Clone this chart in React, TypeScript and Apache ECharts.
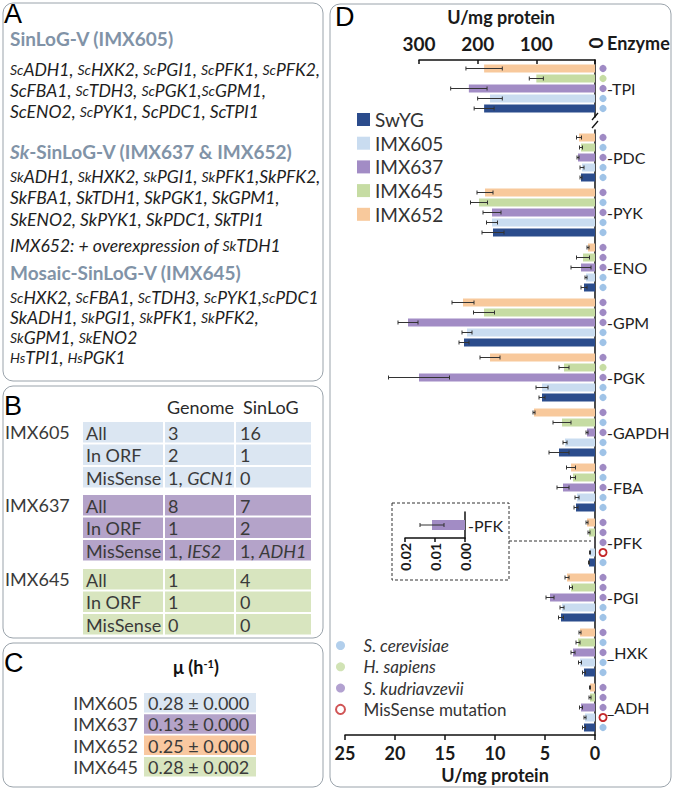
import React, { useEffect, useRef } from 'react';
import * as echarts from 'echarts';

const FONT = 'Lato, "Open Sans", "DejaVu Sans", sans-serif';
const LABEL_FONT = '"Liberation Sans", Arial, sans-serif';

// ---------------- Panel D data ----------------
const categories = ['TPI', 'PDC', 'PYK', 'ENO', 'GPM', 'PGK', 'GAPDH', 'FBA', 'PFK', 'PGI', 'HXK', 'ADH'];
// index 0 (TPI) is read on the top axis (0-300), the rest on the bottom axis (0-25)
const swygValues = [189, 1.4, 10.2, 1.1, 13.1, 5.3, 3.6, 1.9, 0.6, 3.4, 1.1, 1.1];
const swygErrors = [17, 0.1, 1.1, 0.3, 0.5, 0.3, 1.0, 0.2, 0.05, 0.25, 0.15, 0.15];
const imx605Values = [179, 1.3, 10.3, 0.9, 12.8, 5.3, 3.0, 1.8, 0.5, 3.3, 1.5, 1.0];
const imx605Errors = [21, 0.2, 0.55, 0.1, 0.5, 0.6, 0.2, 0.2, 0.05, 0.2, 0.15, 0.1];
const imx637Values = [215, 1.7, 10.3, 1.4, 18.7, 17.6, 0.8, 3.2, 0.011, 4.5, 2.2, 1.4];
const imx637Errors = [31, 0.1, 0.9, 1.0, 1.0, 3.05, 0.1, 0.6, 0.004, 0.4, 0.2, 0.15];
const imx645Values = [100, 1.4, 11.6, 1.2, 11.1, 3.1, 3.3, 2.2, 0.6, 2.4, 1.7, 0.5];
const imx645Errors = [12, 0.15, 0.85, 0.65, 1.05, 0.5, 0.9, 0.25, 0.1, 0.15, 0.2, 0.1];
const imx652Values = [189, 1.6, 11.0, 0.7, 13.2, 10.5, 6.1, 2.4, 0.8, 2.8, 1.5, 0.5];
const imx652Errors = [31, 0.25, 0.8, 0.1, 1.1, 1.0, 0.1, 0.45, 0.1, 0.2, 0.1, 0.05];

// origin of each enzyme: sc = S. cerevisiae, hs = H. sapiens, sk = S. kudriavzevii, mut = MisSense mutation
const swygOrigin = ['sc', 'sc', 'sc', 'sc', 'sc', 'sc', 'sc', 'sc', 'sc', 'sc', 'sc', 'sc'];
const imx605Origin = ['sc', 'sc', 'sc', 'sc', 'sc', 'sc', 'sc', 'sc', 'mut', 'sc', 'sc', 'mut'];
const imx637Origin = ['sk', 'sk', 'sk', 'sk', 'sk', 'sk', 'sk', 'sk', 'sk', 'sk', 'sk', 'sk'];
const imx645Origin = ['hs', 'sc', 'sc', 'sk', 'sk', 'hs', 'sc', 'sc', 'sk', 'sk', 'sc', 'sk'];
const imx652Origin = ['sk', 'sk', 'sk', 'sk', 'sk', 'sk', 'sk', 'sk', 'sk', 'sk', 'sk', 'sk'];

const topTicks = [0, 100, 200, 300];
const bottomTicks = [0, 5, 10, 15, 20, 25];
const insetTicks = [0, 0.01, 0.02];
const legendOrder = ['SwYG', 'IMX605', 'IMX637', 'IMX645', 'IMX652'];
const speciesNames = ['S. cerevisiae', 'H. sapiens', 'S. kudriavzevii', 'MisSense mutation'];
const speciesCodes = ['sc', 'hs', 'sk', 'mut'];

// ---------------- Panels A, B, C text ----------------
const panelATitles = ['SinLoG-V (IMX605)', '{bi|Sk}-SinLoG-V (IMX637 & IMX652)', 'Mosaic-SinLoG-V (IMX645)'];
// '*' marks a prefix that is printed small
const panelAGenes1 = ['*ScADH1, *ScHXK2, *ScPGI1, *ScPFK1, *ScPFK2,', 'ScFBA1, *ScTDH3, *ScPGK1,*ScGPM1,', 'ScENO2, *ScPYK1, ScPDC1, ScTPI1'];
const panelAGenes2 = ['*SkADH1, *SkHXK2, *SkPGI1, *SkPFK1,SkPFK2,', 'SkFBA1, SkTDH1, SkPGK1, SkGPM1,', 'SkENO2, SkPYK1, SkPDC1, SkTPI1', 'IMX652: + overexpression of *SkTDH1'];
const panelAGenes3 = ['*ScHXK2, *ScFBA1, *ScTDH3, *ScPYK1,*ScPDC1', 'SkADH1, *SkPGI1, *SkPFK1, *SkPFK2,', '*SkGPM1, *SkENO2', '*HsTPI1, *HsPGK1'];

const tableStrains = ['IMX605', 'IMX637', 'IMX645'];
const tableRowNames = ['All', 'In ORF', 'MisSense'];
const tableHeaders = ['Genome', 'SinLoG'];
const genomeCounts = [['3', '2', '1, {i|GCN1}'], ['8', '1', '1, {i|IES2}'], ['1', '1', '0']];
const sinlogCounts = [['16', '1', '0'], ['7', '2', '1, {i|ADH1}'], ['4', '0', '0']];

const growthStrains = ['IMX605', 'IMX637', 'IMX652', 'IMX645'];
const growthRates = ['0.28 ± 0.000', '0.13 ± 0.000', '0.25 ± 0.000', '0.28 ± 0.002'];

// ---------------- colours ----------------
const barColors: Record<string, string> = {
  SwYG: '#2b4c8c',
  IMX605: '#c9dcf0',
  IMX637: '#a28cc5',
  IMX645: '#c6dca3',
  IMX652: '#f8c99c',
};
const cellColors: Record<string, string> = {
  IMX605: '#dbe6f2',
  IMX637: '#b4a3c9',
  IMX645: '#d8e5bf',
  IMX652: '#f9c8a0',
};
const dotColors: Record<string, string> = { sc: '#9fc3e7', hs: '#c6dca3', sk: '#9f8ac4', mut: '#c4292b' };

const SLOT = 10; // bar width 8 + gap 2
const TXT = '#2a2a2a';

type Strain = { name: string; values: number[]; errors: number[]; origin: string[] };
const strainsTopDown: Strain[] = [
  { name: 'IMX652', values: imx652Values, errors: imx652Errors, origin: imx652Origin },
  { name: 'IMX645', values: imx645Values, errors: imx645Errors, origin: imx645Origin },
  { name: 'IMX637', values: imx637Values, errors: imx637Errors, origin: imx637Origin },
  { name: 'IMX605', values: imx605Values, errors: imx605Errors, origin: imx605Origin },
  { name: 'SwYG', values: swygValues, errors: swygErrors, origin: swygOrigin },
];

function renderErr(params: any, api: any) {
  const v = api.value(0);
  const c = api.value(1);
  const e = api.value(2);
  const slot = api.value(3);
  const center = api.coord([v, c]);
  const y = center[1] + (slot - 2) * SLOT;
  const xa = api.coord([v - e, c])[0];
  const xb = api.coord([v + e, c])[0];
  const st = { stroke: '#333', lineWidth: 1 };
  return {
    type: 'group',
    children: [
      { type: 'line', shape: { x1: xa, y1: y, x2: xb, y2: y }, style: st },
      { type: 'line', shape: { x1: xa, y1: y - 2, x2: xa, y2: y + 2 }, style: st },
      { type: 'line', shape: { x1: xb, y1: y - 2, x2: xb, y2: y + 2 }, style: st },
    ],
  };
}

function renderDot(params: any, api: any) {
  const c = api.value(1);
  const slot = api.value(2);
  const code = speciesCodes[api.value(3)];
  const p = api.coord([0, c]);
  const cx = p[0] + 8;
  const cy = p[1] + (slot - 2) * SLOT;
  if (code === 'mut') {
    return { type: 'circle', shape: { cx, cy, r: 3.6 }, style: { fill: '#fff', stroke: dotColors.mut, lineWidth: 1.8 } };
  }
  return { type: 'circle', shape: { cx, cy, r: 3.6 }, style: { fill: dotColors[code] } };
}

function geneRich(line: string) {
  return line.replace(/\*(Sc|Sk|Hs)/g, '{ps|$1}');
}

function buildGraphics() {
  const els: any[] = [];
  const box = (x: number, y: number, w: number, h: number) => ({
    type: 'rect',
    shape: { x, y, width: w, height: h, r: 10 },
    style: { fill: 'none', stroke: '#9aa3ab', lineWidth: 1 },
  });
  const text = (x: number, y: number, t: string, st: any = {}) => ({
    type: 'text',
    x,
    y,
    style: { text: t, fontFamily: FONT, fontSize: 18, fill: TXT, align: 'left', verticalAlign: 'middle', ...st },
  });
  const panelLabel = (x: number, y: number, t: string) =>
    text(x, y, t, { fontFamily: LABEL_FONT, fontSize: 27, fill: '#000' });

  // panel boxes
  els.push(box(3, 3, 320, 378));
  els.push(box(3, 386, 320, 252));
  els.push(box(3, 643, 320, 144));
  els.push(box(330, 4, 341, 783));
  els.push(panelLabel(4, 14, 'A'));
  els.push(panelLabel(4, 406, 'B'));
  els.push(panelLabel(4, 663, 'C'));
  els.push(panelLabel(335, 17, 'D'));

  // ---- Panel A ----
  const titleStyle = {
    fontSize: 19,
    fontWeight: 'bold',
    fill: '#8193a7',
    rich: { bi: { fontSize: 19, fontWeight: 'bold', fontStyle: 'italic', fill: '#8193a7', fontFamily: FONT } },
  };
  const geneStyle = {
    fontSize: 17.5,
    fontStyle: 'italic',
    fill: '#1e1e1e',
    rich: { ps: { fontSize: 14, fontStyle: 'italic', fill: '#1e1e1e', fontFamily: FONT } },
  };
  const sections = [
    { title: panelATitles[0], ty: 38, lines: panelAGenes1, ly: [69, 90, 111] },
    { title: panelATitles[1], ty: 151, lines: panelAGenes2, ly: [176, 197, 219, 245] },
    { title: panelATitles[2], ty: 272, lines: panelAGenes3, ly: [297, 317, 337, 357] },
  ];
  sections.forEach((s) => {
    els.push(text(10, s.ty, s.title, titleStyle));
    s.lines.forEach((l, i) => els.push(text(10, s.ly[i], geneRich(l), geneStyle)));
  });

  // ---- Panel B ----
  const cols = [
    { x: 83, w: 80 },
    { x: 165, w: 69 },
    { x: 236, w: 75 },
  ];
  els.push(text(167, 407, tableHeaders[0], { fontSize: 18 }));
  els.push(text(243, 407, tableHeaders[1], { fontSize: 18 }));
  const groupTops = [422, 495, 569];
  const richI = { i: { fontStyle: 'italic', fontSize: 18, fontFamily: FONT, fill: '#3a3a3a' } };
  tableStrains.forEach((st, g) => {
    els.push(text(5, groupTops[g] + 10, st, { fontSize: 18, fill: '#3a3a3a' }));
    tableRowNames.forEach((rn, r) => {
      const y = groupTops[g] + r * 22.5;
      cols.forEach((c) => {
        els.push({ type: 'rect', shape: { x: c.x, y, width: c.w, height: 20.5 }, style: { fill: cellColors[st] } });
      });
      const cy = y + 10.5;
      els.push(text(cols[0].x + 3, cy, rn, { fontSize: 18, fill: '#3a3a3a' }));
      els.push(text(cols[1].x + 3, cy, genomeCounts[g][r], { fontSize: 18, fill: '#3a3a3a', rich: richI }));
      els.push(text(cols[2].x + 4, cy, sinlogCounts[g][r], { fontSize: 18, fill: '#3a3a3a', rich: richI }));
    });
  });

  // ---- Panel C ----
  els.push(
    text(196, 667, '{b|μ (h}{s|-1}{b|)}', {
      align: 'center',
      rich: {
        b: { fontSize: 18, fontWeight: 'bold', fill: '#111', fontFamily: FONT },
        s: { fontSize: 11, fontWeight: 'bold', fill: '#111', fontFamily: FONT, verticalAlign: 'top', padding: [0, 0, 8, 0] },
      },
    })
  );
  growthStrains.forEach((st, i) => {
    const cy = 703 + i * 21.3;
    els.push(text(138, cy, st, { align: 'right', fontSize: 18, fill: '#3a3a3a' }));
    els.push({ type: 'rect', shape: { x: 144, y: cy - 10, width: 112, height: 19.5 }, style: { fill: cellColors[st] } });
    els.push(text(148, cy, growthRates[i], { fontSize: 18, fill: '#3a3a3a' }));
  });

  // ---- Panel D decorations ----
  els.push(text(501, 17, 'U/mg protein', { align: 'center', fontSize: 18, fontWeight: 'bold', fill: '#1a1a1a' }));
  els.push(text(495, 775, 'U/mg protein', { align: 'center', fontSize: 18, fontWeight: 'bold', fill: '#1a1a1a' }));
  els.push(text(607, 43, 'Enzyme', { fontSize: 18, fontWeight: 'bold', fill: '#1a1a1a' }));
  els.push({
    type: 'text',
    x: 595,
    y: 43,
    rotation: Math.PI / 2,
    style: { text: '0', fontFamily: FONT, fontSize: 19, fontWeight: 'bold', fill: '#1a1a1a', align: 'center', verticalAlign: 'middle' },
  });
  // axis break
  els.push({ type: 'line', shape: { x1: 592, y1: 120, x2: 598, y2: 113 }, style: { stroke: '#111', lineWidth: 1.3 } });
  els.push({ type: 'line', shape: { x1: 592, y1: 128, x2: 598, y2: 121 }, style: { stroke: '#111', lineWidth: 1.3 } });
  // inset frame and connector
  els.push({
    type: 'rect',
    shape: { x: 392, y: 503, width: 117, height: 77 },
    style: { fill: 'none', stroke: '#333', lineWidth: 1, lineDash: [3, 2] },
  });
  els.push({ type: 'line', shape: { x1: 509, y1: 541, x2: 591, y2: 541 }, style: { stroke: '#333', lineWidth: 1, lineDash: [3, 2] } });
  return els;
}

function buildOption() {
  const axisLine = { show: true, lineStyle: { color: '#111', width: 1.5 } };
  const catLabel = (m: number) => ({
    margin: m,
    fontSize: 16,
    color: '#222',
    fontFamily: FONT,
    formatter: (v: string) => (v === 'HXK' || v === 'ADH' ? '_' : '-') + v,
  });

  const series: any[] = [];
  strainsTopDown.forEach((s) => {
    series.push({
      type: 'bar',
      name: s.name,
      xAxisIndex: 0,
      yAxisIndex: 0,
      data: [s.values[0]],
      barWidth: 8,
      barGap: '25%',
      itemStyle: { color: barColors[s.name] },
      z: 2,
    });
    series.push({
      type: 'bar',
      name: s.name,
      xAxisIndex: 1,
      yAxisIndex: 1,
      data: s.values.slice(1),
      barWidth: 8,
      barGap: '25%',
      itemStyle: { color: barColors[s.name] },
      z: 2,
    });
  });
  // error bars
  series.push({
    type: 'custom',
    xAxisIndex: 0,
    yAxisIndex: 0,
    renderItem: renderErr,
    clip: false,
    encode: { x: 0, y: 1 },
    data: strainsTopDown.map((s, slot) => [s.values[0], 0, s.errors[0], slot]),
    z: 4,
  });
  const mainErr: any[] = [];
  const mainDots: any[] = [];
  const topDots: any[] = [];
  strainsTopDown.forEach((s, slot) => {
    for (let c = 1; c < categories.length; c++) {
      mainDots.push([0, c - 1, slot, speciesCodes.indexOf(s.origin[c])]);
      if (c === 8 && s.name === 'IMX637') continue; // too small here, shown in inset
      mainErr.push([s.values[c], c - 1, s.errors[c], slot]);
    }
    topDots.push([0, 0, slot, speciesCodes.indexOf(s.origin[0])]);
  });
  series.push({
    type: 'custom',
    xAxisIndex: 1,
    yAxisIndex: 1,
    renderItem: renderErr,
    clip: false,
    encode: { x: 0, y: 1 },
    data: mainErr,
    z: 4,
  });
  series.push({ type: 'custom', xAxisIndex: 0, yAxisIndex: 0, renderItem: renderDot, clip: false, encode: { x: 0, y: 1 }, data: topDots, z: 5 });
  series.push({ type: 'custom', xAxisIndex: 1, yAxisIndex: 1, renderItem: renderDot, clip: false, encode: { x: 0, y: 1 }, data: mainDots, z: 5 });
  // inset PFK (IMX637)
  series.push({
    type: 'bar',
    name: 'IMX637',
    xAxisIndex: 2,
    yAxisIndex: 2,
    data: [imx637Values[8]],
    barWidth: 10,
    itemStyle: { color: barColors.IMX637 },
  });
  series.push({
    type: 'custom',
    xAxisIndex: 2,
    yAxisIndex: 2,
    renderItem: renderErr,
    clip: false,
    encode: { x: 0, y: 1 },
    data: [[imx637Values[8], 0, imx637Errors[8], 2]],
    z: 4,
  });
  // species legend carriers
  speciesNames.forEach((n, i) => {
    series.push({
      type: 'scatter',
      name: n,
      xAxisIndex: 1,
      yAxisIndex: 1,
      data: [],
      itemStyle: speciesCodes[i] === 'mut' ? { color: '#fff', borderColor: dotColors.mut, borderWidth: 2 } : { color: dotColors[speciesCodes[i]] },
    });
  });

  return {
    animation: false,
    backgroundColor: '#ffffff',
    textStyle: { fontFamily: FONT },
    grid: [
      { left: 419, width: 176, top: 60, height: 57 },
      { left: 345, width: 250, top: 130, height: 605 },
      { left: 405, width: 60, top: 512, height: 26 },
    ],
    xAxis: [
      {
        gridIndex: 0,
        type: 'value',
        position: 'top',
        inverse: true,
        min: topTicks[0],
        max: topTicks[topTicks.length - 1],
        interval: 100,
        axisLine,
        axisTick: { show: true, inside: true, length: 4, lineStyle: { color: '#111', width: 1.5 } },
        axisLabel: { fontSize: 19, fontWeight: 'bold', color: '#1a1a1a', margin: 7, formatter: (v: number) => (v === 0 ? '' : String(v)) },
        splitLine: { show: false },
      },
      {
        gridIndex: 1,
        type: 'value',
        position: 'bottom',
        inverse: true,
        min: bottomTicks[0],
        max: bottomTicks[bottomTicks.length - 1],
        interval: 5,
        axisLine,
        axisTick: { show: true, length: 5, lineStyle: { color: '#111', width: 1.5 } },
        axisLabel: { fontSize: 18, fontWeight: 'bold', color: '#1a1a1a', margin: 9 },
        splitLine: { show: false },
      },
      {
        gridIndex: 2,
        type: 'value',
        position: 'bottom',
        inverse: true,
        min: insetTicks[0],
        max: insetTicks[insetTicks.length - 1],
        interval: 0.01,
        axisLine,
        axisTick: { show: true, length: 4, lineStyle: { color: '#111', width: 1.5 } },
        axisLabel: { fontSize: 14, fontWeight: 'bold', color: '#1a1a1a', rotate: 90, margin: 5, formatter: (v: number) => v.toFixed(2) },
        splitLine: { show: false },
      },
    ],
    yAxis: [
      { gridIndex: 0, type: 'category', data: categories.slice(0, 1), position: 'right', axisLine, axisTick: { show: false }, axisLabel: catLabel(12) },
      { gridIndex: 1, type: 'category', data: categories.slice(1), inverse: true, position: 'right', axisLine, axisTick: { show: false }, axisLabel: catLabel(12) },
      { gridIndex: 2, type: 'category', data: ['PFK'], position: 'right', axisLine, axisTick: { show: false }, axisLabel: catLabel(3) },
    ],
    legend: [
      {
        orient: 'vertical',
        left: 352,
        top: 105,
        itemWidth: 13,
        itemHeight: 13,
        itemGap: 4.7,
        icon: 'rect',
        selectedMode: false,
        textStyle: { fontSize: 19, color: '#333', fontFamily: FONT, lineHeight: 19 },
        data: legendOrder,
      },
      {
        orient: 'vertical',
        left: 330,
        top: 632,
        itemWidth: 36,
        itemHeight: 9,
        itemGap: 4.3,
        icon: 'circle',
        selectedMode: false,
        textStyle: { fontSize: 17, color: '#333', fontFamily: FONT, lineHeight: 17 },
        data: speciesNames.map((n, i) => ({
          name: n,
          textStyle: { fontStyle: speciesCodes[i] === 'mut' ? 'normal' : 'italic' },
          itemStyle:
            speciesCodes[i] === 'mut'
              ? { color: '#fff', borderColor: dotColors.mut, borderWidth: 2 }
              : { color: dotColors[speciesCodes[i]] },
        })),
      },
    ],
    graphic: { elements: buildGraphics() },
    series,
  };
}

export default function App() {
  const ref = useRef<HTMLDivElement>(null);
  useEffect(() => {
    if (!ref.current) return;
    const chart = echarts.init(ref.current, undefined, { renderer: 'svg' });
    chart.setOption(buildOption() as any);
    return () => chart.dispose();
  }, []);
  return <div ref={ref} style={{ position: 'fixed', left: 0, top: 0, width: 677, height: 791, background: '#fff' }} />;
}
